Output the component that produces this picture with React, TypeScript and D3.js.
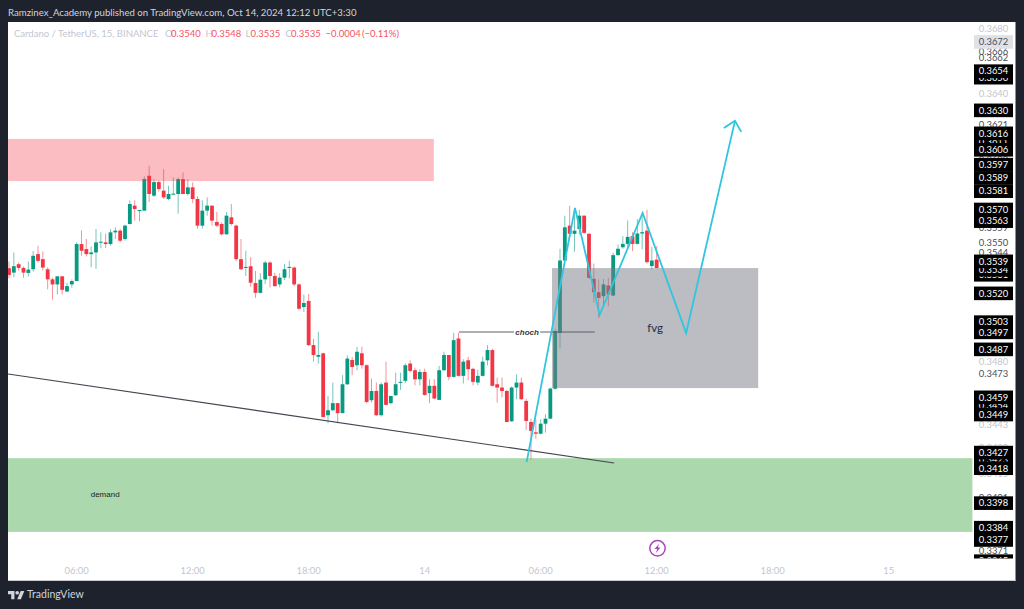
import React from "react";
import * as d3 from "d3";

const WIDTH = 1024;
const HEIGHT = 609;

// Candles, in units of 0.00001 USDT (15 minute bars, first bar 02:30)
const opens = [35349,35323,35373,35351,35321,35343,35433,35403,35343,35283,35253,35301,35211,35253,35273,35493,35463,35433,35443,35501,35503,35493,35563,35573,35523,35613,35723,35693,35693,35903,35783,35865,35813,35763,35789,35793,35883,35793,35833,35763,35603,35693,35723,35625,35613,35551,35653,35603,35403,35353,35361,35261,35203,35283,35383,35303,35253,35293,35353,35353,35253,35119,35155,34895,34827,34847,34486,34515,34556,34498,34666,34808,34777,34847,34777,34573,34627,34486,34676,34556,34602,34676,34686,34787,34748,34695,34738,34614,34657,34575,34748,34837,34709,34934,34715,34806,34756,34676,34715,34806,34866,34666,34647,34627,34451,34647,34676,34569,34447,34387,34379,34437,34466,34640,34966,35395,35603,35554,35583,35663,35554,35286,35207,35183,35247,35187,35427,35474,35494,35540,35494,35556,35573,35362,35400];
const highs = [35389,35443,35383,35359,35389,35451,35483,35449,35355,35293,35301,35301,35263,35283,35503,35575,35523,35479,35583,35563,35555,35583,35593,35583,35609,35755,35755,35697,35899,35963,35883,35873,35943,35843,35893,35893,35923,35883,35863,35779,35755,35773,35723,35685,35623,35685,35733,35609,35523,35453,35415,35333,35319,35393,35391,35323,35319,35375,35393,35359,35259,35193,35196,34932,34973,34851,34598,34676,34556,34719,34835,34825,34884,34886,34783,34699,34676,34676,34798,34598,34734,34734,34789,34806,34763,34754,34757,34695,34695,34773,34856,34837,34967,34967,34812,34827,34763,34750,34827,34895,34874,34705,34705,34633,34653,34724,34705,34583,34466,34463,34463,34492,34647,34990,35465,35663,35722,35708,35698,35663,35560,35377,35282,35286,35292,35441,35490,35540,35635,35564,35643,35674,35698,35476,35480];
const lows = [35289,35295,35335,35293,35299,35329,35383,35335,35223,35163,35193,35193,35209,35233,35273,35423,35419,35355,35345,35469,35469,35483,35523,35503,35513,35609,35633,35629,35693,35745,35775,35809,35763,35755,35789,35675,35793,35783,35739,35585,35585,35663,35603,35595,35545,35551,35603,35393,35339,35303,35239,35173,35199,35255,35235,35239,35235,35279,35289,35243,35103,35089,34889,34798,34788,34472,34439,34511,34439,34498,34662,34719,34748,34757,34556,34560,34482,34478,34544,34550,34598,34633,34672,34734,34660,34660,34600,34556,34579,34575,34744,34690,34705,34711,34670,34690,34660,34660,34711,34777,34653,34560,34589,34443,34447,34579,34575,34400,34230,34350,34375,34385,34466,34635,34876,35391,35524,35447,35550,35554,35286,35144,35055,35134,35124,35183,35423,35465,35465,35451,35490,35461,35377,35342,35350];
const closes = [35309,35361,35351,35323,35341,35423,35393,35353,35283,35253,35301,35221,35243,35273,35493,35453,35433,35443,35503,35507,35493,35563,35573,35513,35603,35733,35703,35697,35883,35793,35865,35823,35773,35793,35795,35883,35793,35833,35763,35603,35693,35723,35633,35603,35551,35663,35613,35403,35343,35357,35263,35203,35281,35383,35303,35243,35293,35343,35357,35253,35109,35143,34895,34837,34837,34476,34515,34556,34498,34666,34816,34767,34856,34777,34563,34627,34486,34666,34546,34598,34666,34680,34777,34744,34695,34738,34604,34657,34583,34748,34837,34709,34924,34715,34798,34754,34680,34715,34798,34866,34657,34647,34627,34447,34647,34676,34579,34453,34395,34379,34437,34466,34641,34978,35395,35593,35554,35573,35663,35560,35292,35207,35173,35253,35193,35427,35465,35494,35536,35494,35556,35564,35385,35395,35350];
const PRICE_UNIT = 1e-5;

// Time axis: bar index and label
const timeTickBars = [14, 38, 62, 86, 110, 134, 158, 182];
const timeTickLabels = ["06:00", "12:00", "18:00", "14", "06:00", "12:00", "18:00", "15"];

// Price axis labels, painted in this order
const faintPrices = [0.368, 0.364, 0.348, 0.3443, 0.343, 0.3415];
const plainPrices = [0.3666, 0.3662, 0.3621, 0.36, 0.3559, 0.355, 0.3544, 0.3473, 0.3401, 0.3371];
const shadedPrices = [0.3672];
const coveredPrices = [0.365, 0.3611, 0.3531, 0.3534, 0.3454, 0.3423, 0.3365];
const blackPrices = [0.3654, 0.363, 0.3616, 0.3606, 0.3597, 0.3589, 0.3581, 0.357, 0.3563, 0.3539, 0.352, 0.3503, 0.3497, 0.3487, 0.3459, 0.3449, 0.3427, 0.3418, 0.3398, 0.3384, 0.3377];

// Drawings in [bar, price]
const wavePath: [number, number][] = [[107.1, 0.34215], [117.1, 0.35709], [122.2, 0.35073], [131.1, 0.35679], [140.1, 0.34966], [150.2, 0.36236]];
const arrowHead: [number, number][] = [[147.9, 0.36193], [150.2, 0.36236], [151.5, 0.36169]];
const trendLine: [number, number][] = [[-0.2, 0.34726], [125.2, 0.3421]];
const chochLeft: [number, number][] = [[93.1, 0.34972], [104.5, 0.34972]];
const chochRight: [number, number][] = [[109.9, 0.34972], [121.2, 0.34972]];
const supplyZone = { from: -0.2, to: 87.9, top: 0.36126, bottom: 0.35871 };
const fvgZone = { from: 112.35, to: 155, top: 0.3535, bottom: 0.34644 };
const demandZone = { from: -0.2, to: 199.4, top: 0.34238, bottom: 0.33816 };

const headerSegments: [number, string, string][] = [
  [14, "Cardano / TetherUS, 15, BINANCE", "#c3c6cf"],
  [165, "O", "#c3c6cf"], [171, "0.3540", "#f7525f"],
  [205.5, "H", "#c3c6cf"], [211.5, "0.3548", "#f7525f"],
  [245.5, "L", "#c3c6cf"], [250.5, "0.3535", "#f7525f"],
  [285.5, "C", "#c3c6cf"], [291, "0.3535", "#f7525f"],
  [325.5, "\u22120.0004", "#f7525f"], [362, "(\u22120.11%)", "#f7525f"],
];

const UP = "#089981";
const DOWN = "#f23645";
const FONT = "Lato, 'Open Sans', sans-serif";

const x = d3.scaleLinear().domain([0, 24]).range([9, 9 + 116]);
const y = d3.scaleLog().domain([0.368, 0.3377]).range([29, 540]);
const line = d3.line<[number, number]>().x((d) => x(d[0])).y((d) => y(d[1]));

const zoneRect = (z: { from: number; to: number; top: number; bottom: number }) => ({
  x: x(z.from),
  y: y(z.top),
  width: x(z.to) - x(z.from),
  height: y(z.bottom) - y(z.top),
});

const PriceLabel = ({ p, fill, box }: { p: number; fill: string; box?: string }) => (
  <g>
    {box ? <rect x={974} width={39} y={y(p) - 6.8} height={13.6} fill={box} /> : null}
    <text x={993.5} y={y(p) + 3.3} textAnchor="middle" fontSize={9.4} fontFamily={FONT} fill={fill}>
      {p.toFixed(4)}
    </text>
  </g>
);

export default function App() {
  return (
    <svg width={WIDTH} height={HEIGHT} style={{ position: "fixed", left: 0, top: 0, display: "block" }}>
      <rect width={WIDTH} height={HEIGHT} fill="#1e222d" />
      <text x={8} y={15.5} fontSize={9.65} fontFamily={FONT} fill="#d1d4dc">
        Ramzinex_Academy published on TradingView.com, Oct 14, 2024 12:12 UTC+3:30
      </text>
      <rect x={8} y={22} width={1007.5} height={559} fill="#ffffff" />
      <rect x={8} y={580} width={1007.5} height={1} fill="#c9cbd1" />

      <clipPath id="plot"><rect x={8} y={22} width={964.5} height={558} /></clipPath>
      <clipPath id="priceAxis"><rect x={972.5} y={22} width={43} height={536.5} /></clipPath>
      <g clipPath="url(#plot)">
        {opens.map((o, i) => {
          const c = closes[i] * PRICE_UNIT;
          const op = o * PRICE_UNIT;
          const color = closes[i] >= o ? UP : DOWN;
          const top = y(Math.max(op, c));
          const h = Math.max(1, y(Math.min(op, c)) - top);
          return (
            <g key={i}>
              <line x1={x(i)} x2={x(i)} y1={y(highs[i] * PRICE_UNIT)} y2={y(lows[i] * PRICE_UNIT)} stroke={color} strokeOpacity={0.55} strokeWidth={1} />
              <rect x={x(i) - 1.9} width={3.8} y={top} height={h} fill={color} />
            </g>
          );
        })}
        <rect {...zoneRect(supplyZone)} fill="#f23645" fillOpacity={0.33} />
        <rect {...zoneRect(demandZone)} fill="#4caf50" fillOpacity={0.47} />
        <rect {...zoneRect(fvgZone)} fill="#787b86" fillOpacity={0.5} />
        <path d={line(trendLine) ?? ""} fill="none" stroke="#434651" strokeWidth={1.1} />
        <path d={line(chochLeft) ?? ""} fill="none" stroke="#5d606b" strokeWidth={1} />
        <path d={line(chochRight) ?? ""} fill="none" stroke="#5d606b" strokeWidth={1} />
        <text x={x(107.2)} y={y(0.34972) + 2.8} textAnchor="middle" fontSize={8} fontStyle="italic" fontWeight={700} fontFamily="'Liberation Sans', sans-serif" fill="#363a45">choch</text>
        <text x={x(133.7)} y={y(0.34996) + 4} textAnchor="middle" fontSize={11.5} fontFamily={FONT} fill="#2a2e39">fvg</text>
        <text x={x(19.9)} y={y(0.34032) + 3} textAnchor="middle" fontSize={8} fontFamily="'Liberation Sans', sans-serif" fill="#222222">demand</text>
        <path d={line(wavePath) ?? ""} fill="none" stroke="#2fc6df" strokeWidth={1.8} strokeLinejoin="miter" />
        <path d={line(arrowHead) ?? ""} fill="none" stroke="#2fc6df" strokeWidth={1.8} />
      </g>

      {headerSegments.map(([sx, label, fill], i) => (
        <text key={i} x={sx} y={37} fontSize={9.5} fontFamily={FONT} fill={fill}>{label}</text>
      ))}

      {timeTickBars.map((b, i) => (
        <text key={i} x={x(b)} y={573.5} textAnchor="middle" fontSize={9.4} fontFamily={FONT} fill="#c3c6cf">{timeTickLabels[i]}</text>
      ))}

      <g clipPath="url(#priceAxis)">
        {faintPrices.map((p) => <PriceLabel key={p} p={p} fill="#c3c6cf" />)}
        {plainPrices.map((p) => <PriceLabel key={p} p={p} fill="#4a4e59" />)}
        {shadedPrices.map((p) => <PriceLabel key={p} p={p} fill="#4a4e59" box="#dfe1e7" />)}
        {coveredPrices.map((p) => <PriceLabel key={p} p={p} fill="#ffffff" box="#000000" />)}
        {blackPrices.map((p) => <PriceLabel key={p} p={p} fill="#ffffff" box="#000000" />)}
      </g>

      <g transform="translate(657.5,548.3)">
        <circle r={7.7} fill="none" stroke="#ab47bc" strokeWidth={1.5} />
        <path d="M1.6,-4.6 L-3,0.8 L-0.4,0.8 L-1.6,4.6 L3,-0.8 L0.4,-0.8 Z" fill="#ab47bc" />
      </g>

      <g transform="translate(8,590) scale(0.46)" fill="#d1d4dc">
        <path d="M14 20H7V9H0V2h14v18z" />
        <circle cx="20" cy="6" r="4" />
        <path d="M28 20h-8l7.5-18h8L28 20z" />
      </g>
      <text x={27} y={598} fontSize={10.5} fontFamily={FONT} fill="#d1d4dc">TradingView</text>
    </svg>
  );
}
